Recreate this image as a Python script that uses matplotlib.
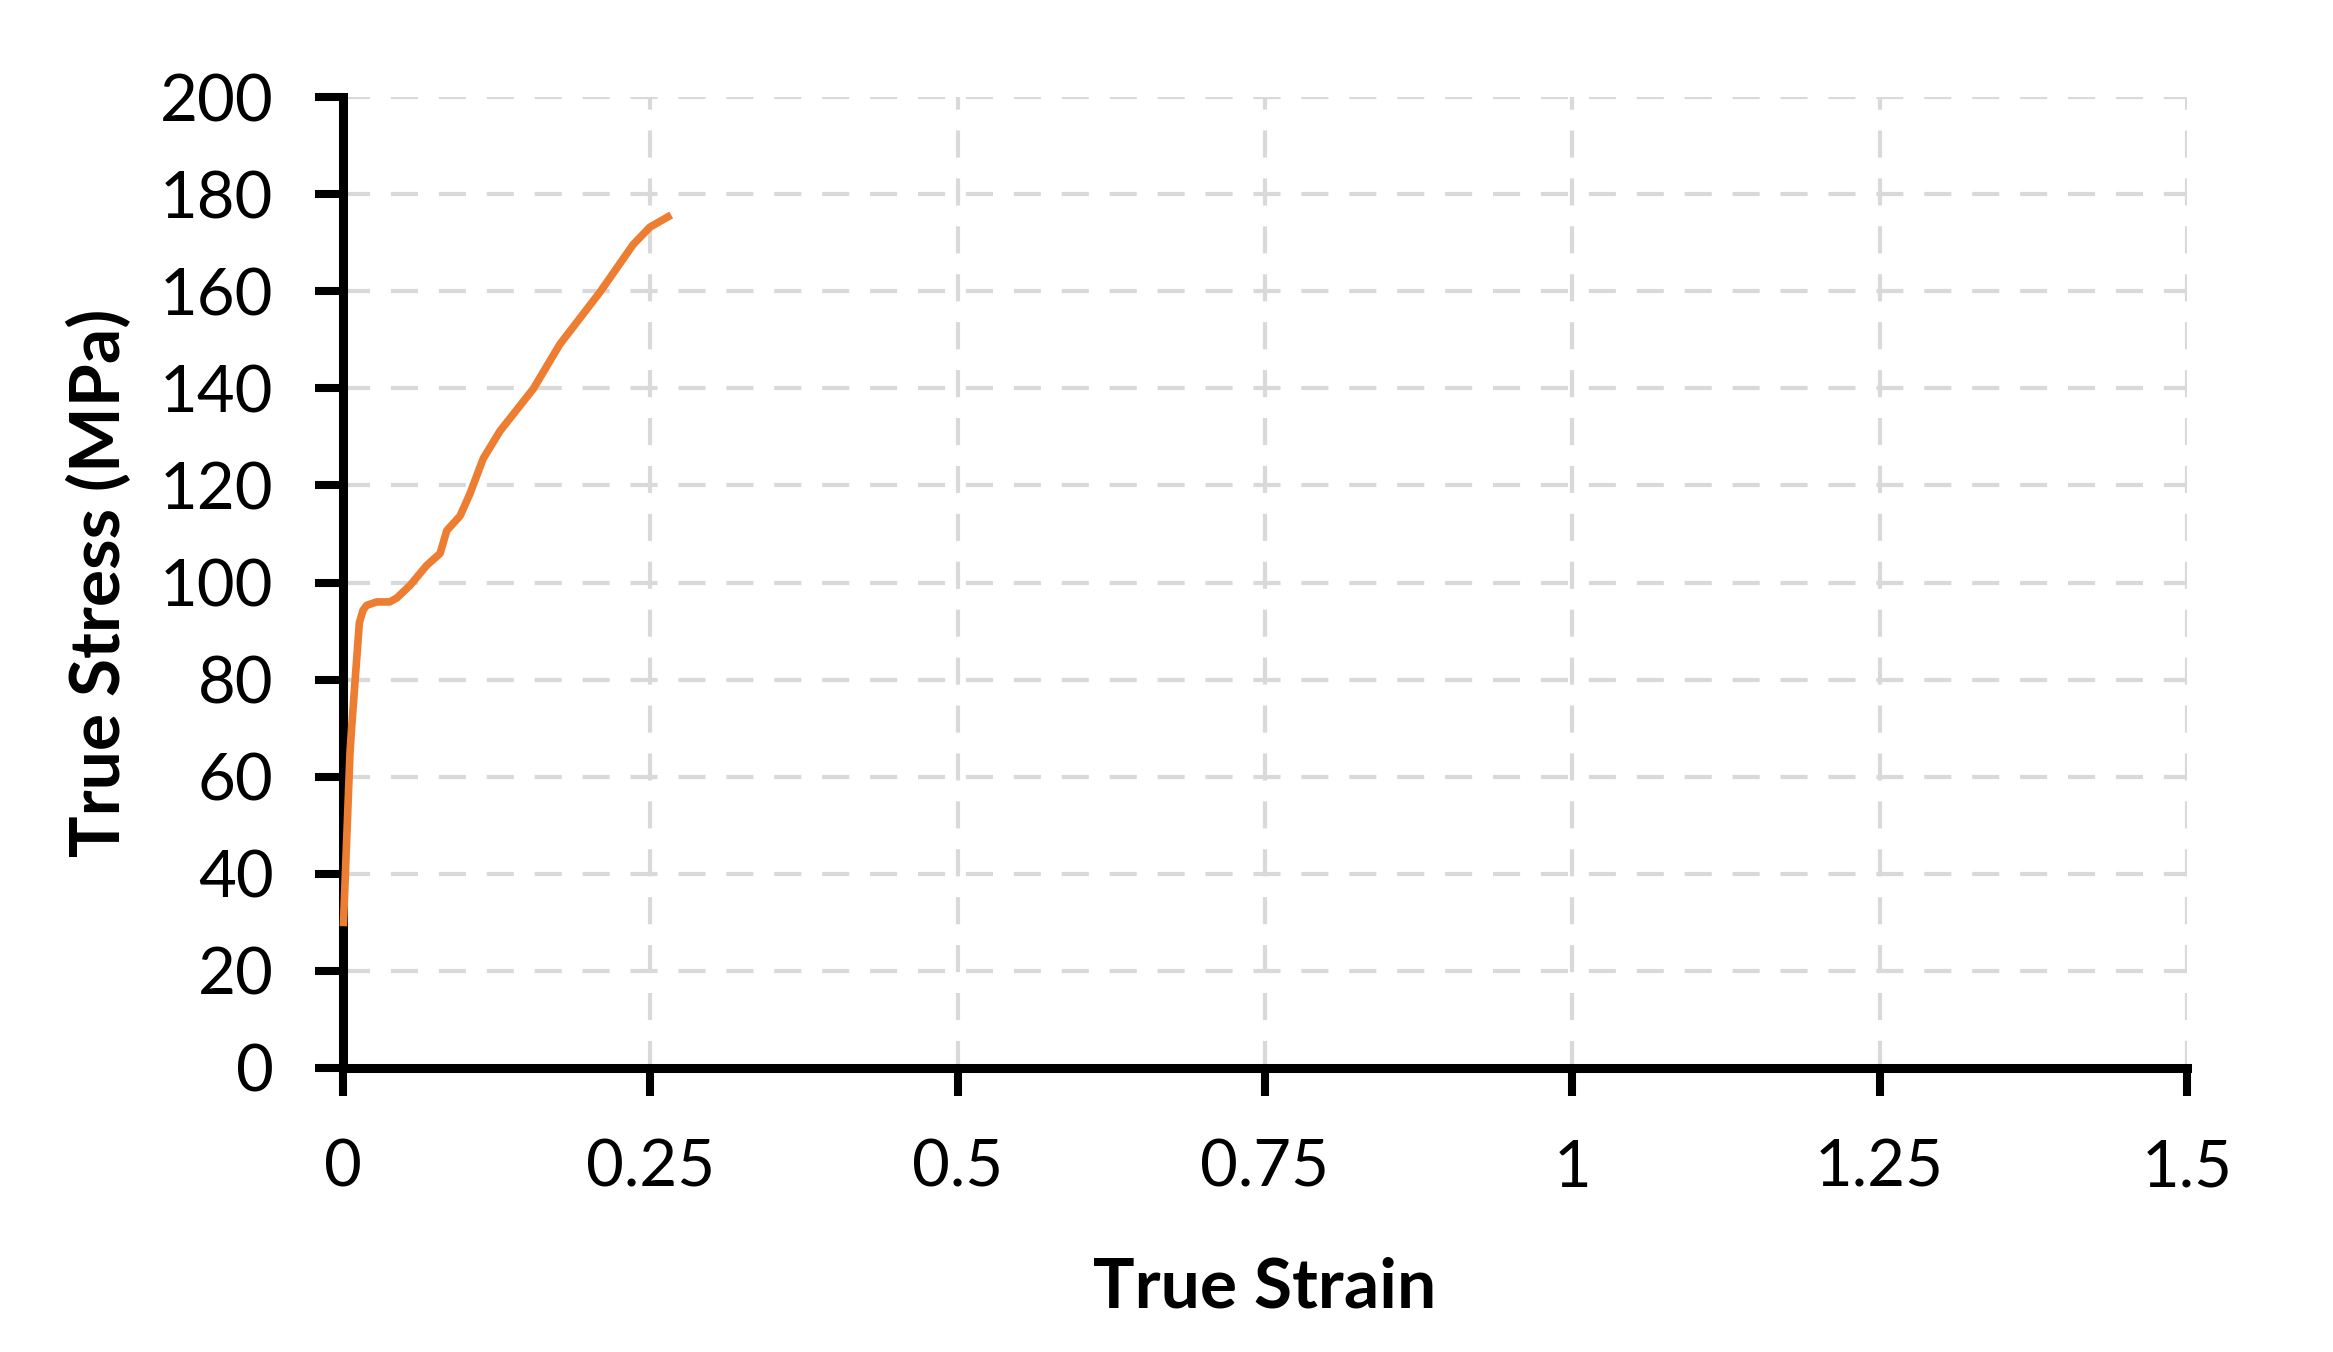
import matplotlib
matplotlib.use("Agg")
import matplotlib.pyplot as plt
import numpy as np

strain = [0.0003, 0.0057, 0.007, 0.0133, 0.0163, 0.0193, 0.0274, 0.038, 0.0437, 0.0545, 0.068,
          0.079, 0.0844, 0.0952, 0.1033, 0.114, 0.1277, 0.1548, 0.1765, 0.209, 0.236,
          0.2497, 0.267]
stress = [29.2, 65.0, 70.0, 91.7, 94.3, 95.3, 96.0, 96.0, 96.8, 99.4, 103.5,
          106.0, 110.7, 113.7, 118.3, 125.5, 131.2, 139.9, 149.1, 159.8, 169.6,
          173.2, 175.7]

xticks = [0, 0.25, 0.5, 0.75, 1, 1.25, 1.5]
xticklabels = ["0", "0.25", "0.5", "0.75", "1", "1.25", "1.5"]
yticks = list(range(0, 201, 20))

plt.rcParams['font.family'] = ['Lato', 'DejaVu Sans']

W, H = 2333, 1352
fig = plt.figure(figsize=(W / 100, H / 100), dpi=100)
ax = fig.add_axes([343 / W, 1 - 1068 / H, (2187 - 343) / W, (1068 - 97) / H])

ax.plot(strain, stress, color="#ED7D31", lw=5.5, zorder=5, clip_on=False,
        solid_capstyle="butt", solid_joinstyle="round")

ax.set_xlim(0, 1.5)
ax.set_ylim(0, 200)
ax.set_xticks(xticks)
ax.set_xticklabels(xticklabels)
ax.set_yticks(yticks)

ax.grid(True, color="#d9d9d9", lw=3.0, linestyle=(0, (6.5, 5)))
ax.set_axisbelow(True)

for s in ["top", "right"]:
    ax.spines[s].set_visible(False)
for s in ["left", "bottom"]:
    ax.spines[s].set_linewidth(6.5)
    ax.spines[s].set_color("black")
    ax.spines[s].set_capstyle("projecting")

ax.tick_params(axis="both", direction="out", length=20, width=5.8, colors="black",
               labelsize=47)
ax.tick_params(axis="y", pad=30)
ax.tick_params(axis="x", pad=31)

ax.set_xlabel("True Strain", fontsize=50, fontweight="bold", labelpad=42)
ax.set_ylabel("True Stress (MPa)", fontsize=50, fontweight="bold", labelpad=20)

fig.savefig("out.png", dpi=100, facecolor="white")
